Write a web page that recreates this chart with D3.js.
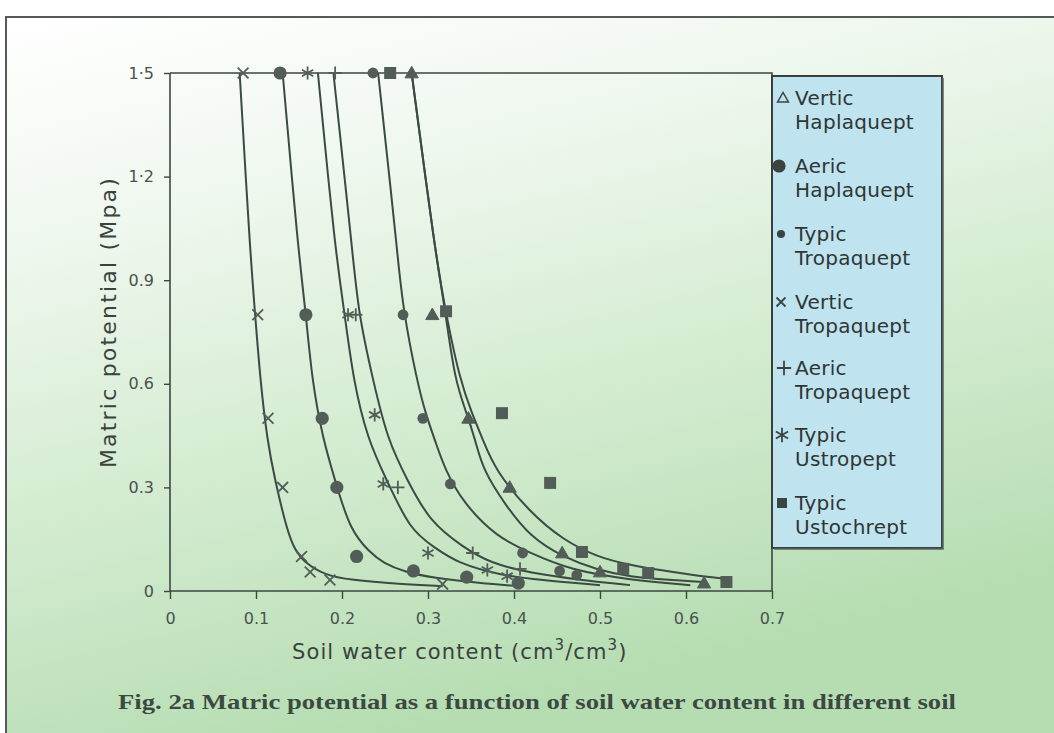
<!DOCTYPE html>
<html>
<head>
<meta charset="utf-8">
<script src="https://cdn.jsdelivr.net/npm/d3@7"></script>
<style>
  html, body { margin: 0; padding: 0; background: #ffffff; }
  svg { display: block; }
</style>
</head>
<body>
<svg id="chart" width="1054" height="733"></svg>
<script>
// ---- Soil series (legend order) ----
const seriesNames = [
  ["Vertic", "Haplaquept"],
  ["Aeric", "Haplaquept"],
  ["Typic", "Tropaquept"],
  ["Vertic", "Tropaquept"],
  ["Aeric", "Tropaquept"],
  ["Typic", "Ustropept"],
  ["Typic", "Ustochrept"]
];
const seriesSymbols = ["triangle", "bigCircle", "smallCircle", "times", "plus", "asterisk", "square"];

// ---- Measured points: soil water content (cm3/cm3) and matric potential (MPa) ----
const vhTheta = [0.281, 0.305, 0.347, 0.395, 0.456, 0.500, 0.621];
const vhPsi   = [1.5,   0.80,  0.50,  0.30,  0.11,  0.055, 0.023];

const ahTheta = [0.128, 0.158, 0.177, 0.194, 0.217, 0.283, 0.345, 0.405];
const ahPsi   = [1.5,   0.80,  0.50,  0.30,  0.10,  0.058, 0.040, 0.023];

const ttTheta = [0.236, 0.271, 0.294, 0.326, 0.410, 0.453, 0.473];
const ttPsi   = [1.5,   0.80,  0.50,  0.31,  0.11,  0.058, 0.046];

const vtTheta = [0.085, 0.102, 0.114, 0.131, 0.153, 0.163, 0.186, 0.317];
const vtPsi   = [1.5,   0.80,  0.50,  0.30,  0.10,  0.055, 0.032, 0.020];

const atTheta = [0.192, 0.216, 0.265, 0.352, 0.407];
const atPsi   = [1.5,   0.80,  0.30,  0.11,  0.064];

const tuTheta = [0.160, 0.207, 0.238, 0.248, 0.300, 0.369, 0.392];
const tuPsi   = [1.5,   0.80,  0.51,  0.31,  0.11,  0.061, 0.043];

const tcTheta = [0.256, 0.321, 0.386, 0.442, 0.479, 0.527, 0.556, 0.647];
const tcPsi   = [1.5,   0.81,  0.515, 0.313, 0.113, 0.064, 0.052, 0.026];

// ---- Fitted retention curves (water content, potential) ----
const vhCurveTheta = [0.281, 0.308, 0.320, 0.331, 0.345, 0.355, 0.364, 0.390, 0.419, 0.457, 0.497, 0.535, 0.581, 0.622];
const vhCurvePsi   = [1.5,   0.988, 0.814, 0.611, 0.515, 0.437, 0.350, 0.249, 0.156, 0.098, 0.061, 0.041, 0.032, 0.026];

const ahCurveTheta = [0.131, 0.149, 0.158, 0.165, 0.178, 0.192, 0.209, 0.233, 0.248, 0.273, 0.306, 0.360, 0.407];
const ahCurvePsi   = [1.5,   0.988, 0.805, 0.611, 0.437, 0.321, 0.177, 0.110, 0.081, 0.055, 0.038, 0.023, 0.014];

const ttCurveTheta = [0.242, 0.258, 0.264, 0.271, 0.287, 0.297, 0.308, 0.320, 0.341, 0.380, 0.419, 0.465, 0.535, 0.605];
const ttCurvePsi   = [1.5,   1.132, 0.988, 0.814, 0.611, 0.515, 0.437, 0.350, 0.255, 0.156, 0.110, 0.061, 0.032, 0.017];

const vtCurveTheta = [0.081, 0.093, 0.099, 0.105, 0.113, 0.122, 0.136, 0.145, 0.157, 0.180, 0.209, 0.267, 0.317];
const vtCurvePsi   = [1.5,   0.988, 0.80,  0.611, 0.437, 0.321, 0.177, 0.119, 0.081, 0.046, 0.032, 0.020, 0.014];

const atCurveTheta = [0.190, 0.212, 0.219, 0.236, 0.253, 0.276, 0.302, 0.341, 0.372, 0.419, 0.477, 0.535];
const atCurvePsi   = [1.5,   0.988, 0.805, 0.611, 0.437, 0.321, 0.200, 0.127, 0.081, 0.052, 0.032, 0.017];

const tuCurveTheta = [0.172, 0.192, 0.203, 0.213, 0.230, 0.252, 0.279, 0.307, 0.334, 0.384, 0.430, 0.500];
const tuCurvePsi   = [1.5,   0.988, 0.805, 0.611, 0.437, 0.321, 0.177, 0.127, 0.081, 0.046, 0.032, 0.017];

const tcCurveTheta = [0.281, 0.308, 0.320, 0.337, 0.351, 0.364, 0.378, 0.419, 0.457, 0.497, 0.535, 0.576, 0.616, 0.648];
const tcCurvePsi   = [1.5,   0.988, 0.814, 0.611, 0.515, 0.437, 0.350, 0.226, 0.148, 0.098, 0.075, 0.058, 0.043, 0.035];

// ---- Axis ticks ----
const xTicks = [0, 0.1, 0.2, 0.3, 0.4, 0.5, 0.6, 0.7];
const xTickLabels = ["0", "0.1", "0.2", "0.3", "0.4", "0.5", "0.6", "0.7"];
const yTicks = [0, 0.3, 0.6, 0.9, 1.2, 1.5];
const yTickLabels = ["0", "0.3", "0.6", "0.9", "1·2", "1·5"];

const pointSets = [
  [vhTheta, vhPsi], [ahTheta, ahPsi], [ttTheta, ttPsi], [vtTheta, vtPsi],
  [atTheta, atPsi], [tuTheta, tuPsi], [tcTheta, tcPsi]
];
const curveSets = [
  [vhCurveTheta, vhCurvePsi], [ahCurveTheta, ahCurvePsi], [ttCurveTheta, ttCurvePsi],
  [vtCurveTheta, vtCurvePsi], [atCurveTheta, atCurvePsi], [tuCurveTheta, tuCurvePsi],
  [tcCurveTheta, tcCurvePsi]
];

const svg = d3.select("#chart");
const W = 1054, H = 733;

// ---- Background ----
const defs = svg.append("defs");
const grad = defs.append("linearGradient").attr("id", "bg")
  .attr("x1", "0").attr("y1", "0").attr("x2", "0.35").attr("y2", "1");
grad.append("stop").attr("offset", "0%").attr("stop-color", "#ffffff");
grad.append("stop").attr("offset", "30%").attr("stop-color", "#eef7ed");
grad.append("stop").attr("offset", "65%").attr("stop-color", "#d2ebcf");
grad.append("stop").attr("offset", "100%").attr("stop-color", "#b6ddb2");

svg.append("rect").attr("x", 0).attr("y", 0).attr("width", W).attr("height", H).attr("fill", "#ffffff");
svg.append("rect").attr("x", 6).attr("y", 17).attr("width", W - 6).attr("height", H - 17).attr("fill", "url(#bg)");
// frame
svg.append("path").attr("d", `M6,${H} L6,17 L${W},17`)
  .attr("fill", "none").attr("stroke", "#555a58").attr("stroke-width", 2);

// ---- Scales ----
const x = d3.scaleLinear().domain([0, 0.7]).range([170, 772]);
const y = d3.scaleLinear().domain([0, 1.5]).range([591, 73]);

const ink = "#3d4642";
const markInk = "#535d58";

// plot frame (top and right)
svg.append("path")
  .attr("d", `M${x(0)},${y(1.5)} L${x(0.7)},${y(1.5)} L${x(0.7)},${y(0)}`)
  .attr("fill", "none").attr("stroke", ink).attr("stroke-width", 1.6);

// ---- Axes ----
const xAxis = d3.axisBottom(x).tickValues(xTicks).tickSize(8).tickPadding(14)
  .tickFormat((d, i) => xTickLabels[i]);
const gx = svg.append("g").attr("transform", `translate(0,${y(0)})`).call(xAxis);

const yAxis = d3.axisLeft(y).tickValues(yTicks).tickSize(6).tickPadding(10)
  .tickFormat((d, i) => yTickLabels[i]);
const gy = svg.append("g").attr("transform", `translate(${x(0)},0)`).call(yAxis);

[gx, gy].forEach(g => {
  g.select(".domain").attr("stroke", ink).attr("stroke-width", 1.6);
  g.selectAll(".tick line").attr("stroke", ink).attr("stroke-width", 1.4);
  g.selectAll(".tick text").attr("fill", "#4a524e")
    .attr("font-family", "'DejaVu Sans', sans-serif").attr("font-size", 16);
});
gx.select(".domain").attr("d", `M${x(0)},0H${x(0.7)}`);
gy.select(".domain").attr("d", `M0,${y(0)}V${y(1.5)}`);

// ---- Axis titles ----
const xt = svg.append("text")
  .attr("x", 292).attr("y", 659)
  .attr("font-family", "'DejaVu Sans', sans-serif").attr("font-size", 21)
  .attr("letter-spacing", 1.1)
  .attr("fill", "#3a423e");
xt.append("tspan").text("Soil water content (cm");
xt.append("tspan").attr("dy", -9).attr("font-size", 15).text("3");
xt.append("tspan").attr("dy", 9).text("/cm");
xt.append("tspan").attr("dy", -9).attr("font-size", 15).text("3");
xt.append("tspan").attr("dy", 9).text(")");

svg.append("text")
  .attr("transform", "translate(116,322) rotate(-90)")
  .attr("text-anchor", "middle")
  .attr("font-family", "'DejaVu Sans', sans-serif").attr("font-size", 22)
  .attr("letter-spacing", 2.2)
  .attr("fill", "#3a423e")
  .text("Matric potential (Mpa)");

// ---- Curves ----
const line = d3.line()
  .x(d => x(d[0])).y(d => y(d[1]))
  .curve(d3.curveBasis);

curveSets.forEach(([th, ps]) => {
  const pts = th.map((t, i) => [t, ps[i]]);
  svg.append("path").datum(pts)
    .attr("d", line)
    .attr("fill", "none")
    .attr("stroke", "#3c4a44")
    .attr("stroke-width", 2);
});

// ---- Marker drawing ----
function drawMarker(g, kind, cx, cy, s, opts) {
  const col = opts && opts.color || markInk;
  if (kind === "triangle") {
    const h = s * 0.9;
    g.append("path")
      .attr("d", `M${cx},${cy - h * 0.62} L${cx + s * 0.55},${cy + h * 0.45} L${cx - s * 0.55},${cy + h * 0.45} Z`)
      .attr("fill", opts && opts.open ? "none" : col)
      .attr("stroke", col).attr("stroke-width", opts && opts.open ? 1.4 : 1);
  } else if (kind === "bigCircle") {
    g.append("circle").attr("cx", cx).attr("cy", cy).attr("r", s * 0.55).attr("fill", col);
  } else if (kind === "smallCircle") {
    g.append("circle").attr("cx", cx).attr("cy", cy).attr("r", s * 0.45).attr("fill", col);
  } else if (kind === "square") {
    g.append("rect").attr("x", cx - s / 2).attr("y", cy - s / 2)
      .attr("width", s).attr("height", s).attr("fill", col);
  } else if (kind === "times") {
    const a = s * 0.45;
    g.append("path")
      .attr("d", `M${cx - a},${cy - a} L${cx + a},${cy + a} M${cx - a},${cy + a} L${cx + a},${cy - a}`)
      .attr("stroke", col).attr("stroke-width", 1.8).attr("fill", "none");
  } else if (kind === "plus") {
    const a = s * 0.55;
    g.append("path")
      .attr("d", `M${cx - a},${cy} L${cx + a},${cy} M${cx},${cy - a} L${cx},${cy + a}`)
      .attr("stroke", col).attr("stroke-width", 1.8).attr("fill", "none");
  } else if (kind === "asterisk") {
    const a = s * 0.55, b = a * 0.85;
    g.append("path")
      .attr("d", `M${cx},${cy - a} L${cx},${cy + a} M${cx - b},${cy - b * 0.58} L${cx + b},${cy + b * 0.58} M${cx - b},${cy + b * 0.58} L${cx + b},${cy - b * 0.58}`)
      .attr("stroke", col).attr("stroke-width", 1.8).attr("fill", "none");
  }
}

// ---- Points ----
const gPts = svg.append("g");
pointSets.forEach(([th, ps], k) => {
  th.forEach((t, i) => {
    drawMarker(gPts, seriesSymbols[k], x(t), y(ps[i]), 12);
  });
});

// ---- Legend ----
const lg = svg.append("g");
lg.append("rect").attr("x", 772).attr("y", 76).attr("width", 170).attr("height", 472)
  .attr("fill", "#bfe3ef").attr("stroke", "#3a3f3e").attr("stroke-width", 2);
lg.append("path").attr("d", "M943,78 L943,549 L774,549")
  .attr("fill", "none").attr("stroke", "#5a6462").attr("stroke-width", 1.5);

const legendRowY = [98, 166, 234, 302, 368, 435, 503];
const legendSym = [
  { kind: "triangle", s: 10, open: true, dx: 783 },
  { kind: "bigCircle", s: 12, dx: 779 },
  { kind: "smallCircle", s: 9, dx: 781 },
  { kind: "times", s: 10, dx: 781 },
  { kind: "plus", s: 13, dx: 784 },
  { kind: "asterisk", s: 13, dx: 782 },
  { kind: "square", s: 10, dx: 782 }
];
seriesNames.forEach((nm, i) => {
  const sy = legendRowY[i];
  const ls = legendSym[i];
  drawMarker(lg, ls.kind, ls.dx, sy, ls.s, { open: ls.open, color: "#3a4442" });
  nm.forEach((part, j) => {
    lg.append("text")
      .attr("x", 795).attr("y", sy + 7 + j * 24)
      .attr("font-family", "'DejaVu Sans', sans-serif").attr("font-size", 20)
      .attr("letter-spacing", 0.3)
      .attr("fill", "#2f3634")
      .text(part);
  });
});

// ---- Caption ----
svg.append("text")
  .attr("x", 118).attr("y", 709)
  .attr("font-family", "'Liberation Serif', 'Times New Roman', serif")
  .attr("font-weight", "bold").attr("font-size", 22)
  .attr("fill", "#3b4a40")
  .attr("textLength", 838).attr("lengthAdjust", "spacingAndGlyphs")
  .text("Fig. 2a Matric potential as a function of soil water content in different soil");
</script>
</body>
</html>
